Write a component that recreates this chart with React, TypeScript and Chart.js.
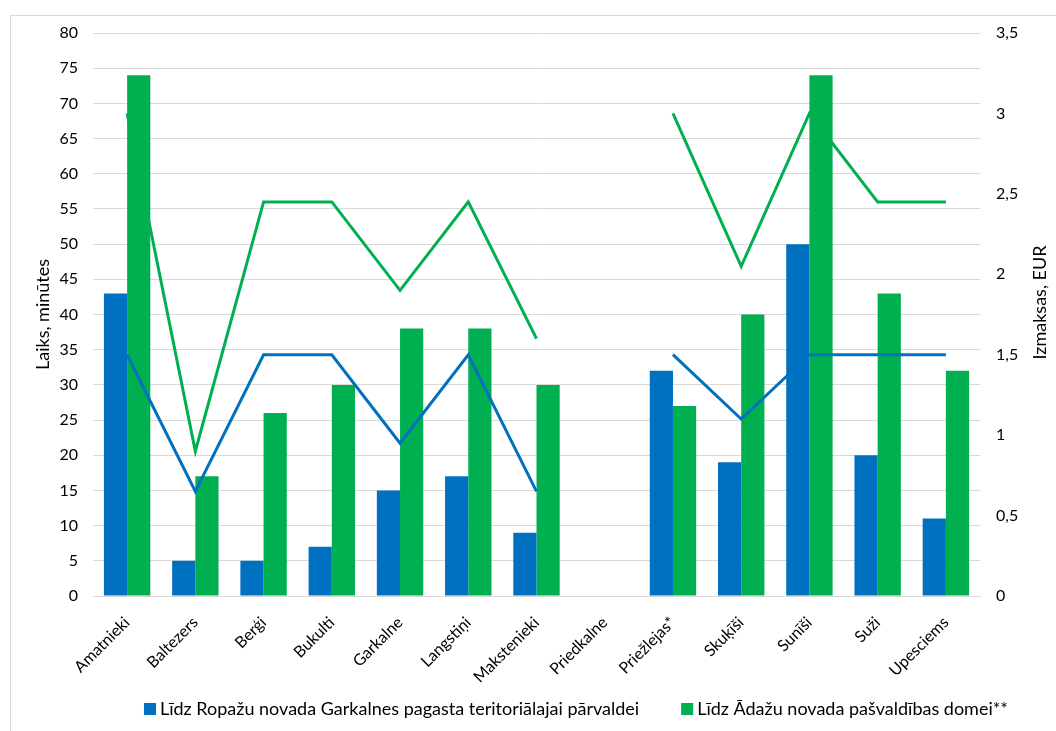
import React, { useEffect, useRef } from "react";
import { Chart, registerables } from "chart.js";

Chart.register(...registerables);

const categories = [
  "Amatnieki", "Baltezers", "Berģi", "Bukulti", "Garkalne", "Langstiņi", "Makstenieki",
  "Priedkalne", "Priežlejas*", "Skuķīši", "Sunīši", "Suži", "Upesciems",
];
const timeToRopazi = [43, 5, 5, 7, 15, 17, 9, null, 32, 19, 50, 20, 11];
const timeToAdazi = [74, 17, 26, 30, 38, 38, 30, null, 27, 40, 74, 43, 32];
const costToRopazi = [1.5, 0.65, 1.5, 1.5, 0.95, 1.5, 0.65, null, 1.5, 1.1, 1.5, 1.5, 1.5];
const costToAdazi = [3.0, 0.9, 2.45, 2.45, 1.9, 2.45, 1.6, null, 3.0, 2.05, 3.0, 2.45, 2.45];

const legendRopazi = "Līdz Ropažu novada Garkalnes pagasta teritoriālajai pārvaldei";
const legendAdazi = "Līdz Ādažu novada pašvaldības domei**";
const leftTitle = "Laiks, minūtes";
const rightTitle = "Izmaksas, EUR";

const BLUE = "#0070C0";
const GREEN = "#00B050";
const FONT = "Lato, 'Liberation Sans', sans-serif";

const extrasPlugin = {
  id: "extras",
  afterDraw(chart: any) {
    const { ctx, chartArea } = chart;
    const midY = (chartArea.top + chartArea.bottom) / 2;
    ctx.save();
    ctx.font = `18px ${FONT}`;
    ctx.fillStyle = "#000";
    ctx.textAlign = "center";
    ctx.textBaseline = "middle";
    // axis titles, reading bottom-to-top
    const titles = [
      { text: leftTitle, x: 43, y: midY },
      { text: rightTitle, x: 1040, y: midY - 12 },
    ];
    titles.forEach((t) => {
      ctx.save();
      ctx.translate(t.x, t.y);
      ctx.rotate(-Math.PI / 2);
      ctx.fillText(t.text, 0, 0);
      ctx.restore();
    });
    // legend
    const items = [
      { text: legendRopazi, color: BLUE },
      { text: legendAdazi, color: GREEN },
    ];
    const box = 12, gap = 4, between = 42;
    const widths = items.map((it) => ctx.measureText(it.text).width);
    const total = items.reduce((s, _it, i) => s + box + gap + widths[i], 0) + between * (items.length - 1);
    let x = 576 - total / 2;
    const y = 709;
    ctx.textAlign = "left";
    items.forEach((it, i) => {
      ctx.fillStyle = it.color;
      ctx.fillRect(x, y - box / 2, box, box);
      ctx.fillStyle = "#000";
      ctx.fillText(it.text, x + box + gap, y);
      x += box + gap + widths[i] + between;
    });
    ctx.restore();
  },
};

export default function App() {
  const ref = useRef<HTMLCanvasElement>(null);
  useEffect(() => {
    if (!ref.current) return;
    const chart = new Chart(ref.current, {
      type: "bar",
      data: {
        labels: categories,
        datasets: [
          { type: "bar", label: legendRopazi, data: timeToRopazi, backgroundColor: BLUE, yAxisID: "y", order: 0, barPercentage: 1, categoryPercentage: 0.68 },
          { type: "line", label: "cost1", data: costToRopazi, borderColor: BLUE, borderWidth: 3, pointRadius: 0, tension: 0, yAxisID: "y1", order: 1, spanGaps: false },
          { type: "bar", label: legendAdazi, data: timeToAdazi, backgroundColor: GREEN, yAxisID: "y", order: 2, barPercentage: 1, categoryPercentage: 0.68 },
          { type: "line", label: "cost2", data: costToAdazi, borderColor: GREEN, borderWidth: 3, pointRadius: 0, tension: 0, yAxisID: "y1", order: 3, spanGaps: false },
        ] as any,
      },
      plugins: [extrasPlugin],
      options: {
        animation: false,
        responsive: false,
        maintainAspectRatio: false,
        layout: { padding: { left: 28, right: 36, top: 33, bottom: 0 } },
        plugins: {
          tooltip: { enabled: false },
          legend: { display: false },
        },
        scales: {
          x: {
            grid: { display: false },
            border: { color: "#D9D9D9" },
            ticks: { color: "#000", font: { family: FONT, size: 16 }, minRotation: 45, maxRotation: 45, padding: 9 },
            afterFit: (scale: any) => { scale.height = 135; },
          },
          y: {
            position: "left",
            min: 0,
            max: 80,
            ticks: { stepSize: 5, color: "#000", font: { family: FONT, size: 16 }, padding: 15 },
            grid: { color: "#D9D9D9", lineWidth: 1, drawTicks: false },
            border: { display: false },
            afterFit: (scale: any) => { scale.width = 65; },
          },
          y1: {
            position: "right",
            min: 0,
            max: 3.5,
            ticks: {
              stepSize: 0.5,
              color: "#000",
              font: { family: FONT, size: 16 },
              padding: 16,
              callback: (v: any) => String(v).replace(".", ","),
            },
            grid: { display: false, drawTicks: false },
            border: { display: false },
            afterFit: (scale: any) => { scale.width = 40; },
          },
        },
      },
    });
    return () => chart.destroy();
  }, []);

  return (
    <div style={{ position: "fixed", left: 0, top: 0, width: 1056, height: 731, background: "#fff", overflow: "hidden" }}>
      <div style={{ position: "absolute", left: 10, top: 15, width: 1100, height: 800, borderLeft: "1px solid #D9D9D9", borderTop: "1px solid #D9D9D9" }} />
      <canvas ref={ref} width={1056} height={731} style={{ position: "absolute", left: 0, top: 0 }} />
    </div>
  );
}
